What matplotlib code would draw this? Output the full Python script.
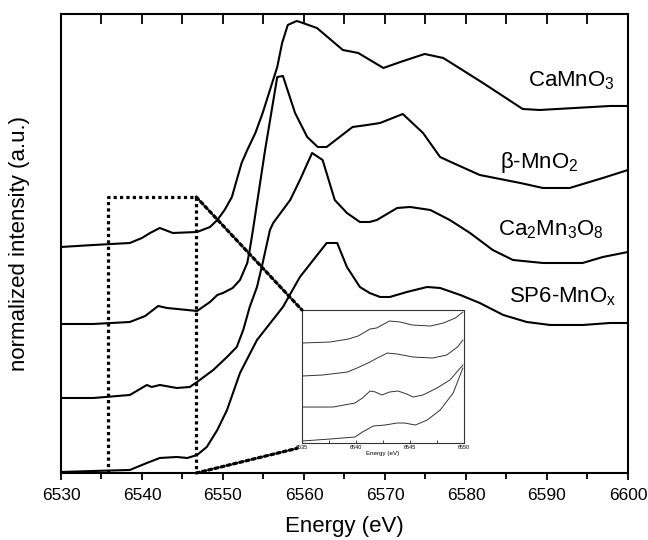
import matplotlib
matplotlib.use("Agg")
import matplotlib.pyplot as plt
from matplotlib.patches import ConnectionPatch
from matplotlib.ticker import MultipleLocator

plt.rcParams['font.family'] = ['Liberation Sans', 'DejaVu Sans']
plt.rcParams['mathtext.fontset'] = 'custom'
plt.rcParams['mathtext.rm'] = 'Liberation Sans'
plt.rcParams['mathtext.it'] = 'Liberation Sans:italic'

# main spectra (energy in eV, offset normalized intensity)
e_camno3 = [6530.0, 6534.0, 6538.5, 6540.0, 6541.0, 6542.2, 6543.8, 6546.8, 6548.4, 6549.3,
            6550.2, 6551.1, 6551.7, 6552.3, 6553.0, 6554.0, 6554.9, 6555.8, 6556.7, 6557.3,
            6558.0, 6559.1, 6559.5, 6561.6, 6564.8, 6566.7, 6569.8, 6571.9, 6574.9, 6577.2,
            6582.1, 6587.0, 6589.1, 6597.8, 6600.0]
i_camno3 = [2.26, 2.28, 2.30, 2.35, 2.40, 2.45, 2.40, 2.41, 2.46, 2.53,
            2.63, 2.76, 2.93, 3.10, 3.23, 3.40, 3.60, 3.83, 4.06, 4.30,
            4.48, 4.52, 4.51, 4.45, 4.23, 4.20, 4.05, 4.11, 4.19, 4.15,
            3.90, 3.64, 3.63, 3.67, 3.67]

e_mno2 = [6530.0, 6534.0, 6538.5, 6540.4, 6542.0, 6543.1, 6546.8, 6548.4, 6549.3, 6550.0,
          6551.2, 6552.1, 6553.0, 6553.3, 6553.7, 6555.2, 6556.7, 6557.4, 6558.9, 6560.4,
          6561.7, 6562.8, 6564.4, 6566.0, 6567.8, 6569.4, 6572.2, 6574.7, 6576.8, 6578.4,
          6581.7, 6586.7, 6589.5, 6592.8, 6596.9, 6600.0]
i_mno2 = [1.49, 1.49, 1.51, 1.57, 1.67, 1.65, 1.62, 1.71, 1.78, 1.80,
          1.85, 1.93, 2.10, 2.23, 2.43, 3.23, 3.96, 3.97, 3.60, 3.36,
          3.26, 3.26, 3.36, 3.46, 3.48, 3.50, 3.59, 3.40, 3.16, 3.10,
          2.98, 2.90, 2.85, 2.85, 2.95, 3.03]

e_ca2mn3o8 = [6530.0, 6534.0, 6538.5, 6540.6, 6541.2, 6542.2, 6544.3, 6545.9, 6546.8, 6548.8,
              6550.5, 6551.7, 6552.5, 6553.3, 6554.2, 6554.9, 6555.8, 6556.2, 6558.3, 6559.5,
              6561.0, 6562.3, 6563.8, 6565.3, 6566.9, 6568.1, 6569.0, 6571.5, 6573.1, 6575.6,
              6578.0, 6580.5, 6583.3, 6585.8, 6589.5, 6594.4, 6596.9, 6600.0]
i_ca2mn3o8 = [0.75, 0.75, 0.78, 0.88, 0.86, 0.88, 0.85, 0.86, 0.91, 1.03,
              1.16, 1.26, 1.43, 1.66, 1.86, 2.10, 2.43, 2.50, 2.73, 2.93,
              3.20, 3.13, 2.73, 2.60, 2.51, 2.51, 2.53, 2.65, 2.66, 2.63,
              2.53, 2.40, 2.23, 2.13, 2.10, 2.10, 2.16, 2.21]

e_sp6 = [6530.0, 6534.0, 6538.5, 6540.6, 6542.2, 6544.3, 6545.6, 6546.8, 6548.0, 6549.3,
         6550.5, 6552.1, 6554.2, 6557.4, 6559.5, 6562.8, 6564.1, 6565.3, 6566.9, 6568.1,
         6569.4, 6570.6, 6572.7, 6575.2, 6576.8, 6579.3, 6581.7, 6584.6, 6587.5, 6590.4,
         6594.4, 6597.8, 6600.0]
i_sp6 = [0.01, 0.02, 0.03, 0.10, 0.15, 0.16, 0.15, 0.18, 0.26, 0.43,
         0.63, 1.00, 1.33, 1.66, 1.96, 2.30, 2.30, 2.06, 1.86, 1.80,
         1.76, 1.76, 1.81, 1.86, 1.85, 1.78, 1.70, 1.58, 1.51, 1.48,
         1.48, 1.50, 1.50]

# inset: pre-edge region
ie1 = [6535.0, 6537.6, 6539.3, 6540.2, 6541.3, 6541.9, 6543.1, 6544.1, 6545.2, 6546.9, 6548.1, 6549.2, 6549.9]
ii1 = [1.00, 1.01, 1.04, 1.07, 1.14, 1.15, 1.22, 1.21, 1.18, 1.17, 1.20, 1.25, 1.31]
ie2 = [6535.0, 6536.9, 6539.2, 6540.1, 6541.3, 6541.8, 6542.9, 6543.8, 6545.3, 6547.1, 6548.4, 6549.4, 6549.9]
ii2 = [0.67, 0.68, 0.71, 0.75, 0.81, 0.84, 0.90, 0.89, 0.86, 0.85, 0.88, 0.96, 1.03]
ie3 = [6535.0, 6537.9, 6539.9, 6540.6, 6541.3, 6541.8, 6542.4, 6543.1, 6543.9, 6544.7, 6545.3, 6546.2, 6547.5, 6548.7, 6549.9]
ii3 = [0.36, 0.36, 0.40, 0.45, 0.52, 0.51, 0.48, 0.51, 0.52, 0.49, 0.46, 0.48, 0.55, 0.63, 0.78]
ie4 = [6535.0, 6537.6, 6539.9, 6540.6, 6541.6, 6542.7, 6543.8, 6544.5, 6545.5, 6546.6, 6547.8, 6549.0, 6549.9]
ii4 = [0.02, 0.04, 0.06, 0.11, 0.17, 0.18, 0.20, 0.20, 0.18, 0.23, 0.33, 0.50, 0.75]

names = ['CaMnO$_3$', 'β-MnO$_2$', 'Ca$_2$Mn$_3$O$_8$', r'SP6-MnO$_\mathrm{x}$']
name_x = [6593.0, 6589.0, 6590.5, 6592.0]
name_y = [3.92, 3.10, 2.43, 1.76]

zoom_e = [6535.8, 6546.7]
zoom_top = 2.76

fig = plt.figure(figsize=(6.48, 5.4), dpi=100)
ax = fig.add_axes([0.0941, 0.1241, 0.875, 0.85])

for e, i in [(e_camno3, i_camno3), (e_mno2, i_mno2), (e_ca2mn3o8, i_ca2mn3o8), (e_sp6, i_sp6)]:
    ax.plot(e, i, color='black', lw=1.5)

for n, x, y in zip(names, name_x, name_y):
    ax.text(x, y, n, fontsize=16, ha='center', va='center')

ax.set_xlim(6530, 6600)
ax.set_ylim(0, 4.59)
ax.set_yticks([])
ax.xaxis.set_major_locator(MultipleLocator(10))
ax.xaxis.set_minor_locator(MultipleLocator(5))
ax.tick_params(axis='x', which='both', direction='out', labelsize=12.5, pad=6, width=1.3)
ax.tick_params(axis='x', which='major', length=5)
ax.tick_params(axis='x', which='minor', length=4)
for sp in ax.spines.values():
    sp.set_linewidth(1.5)
ax.set_xlabel('Energy (eV)', fontsize=16)
ax.xaxis.set_label_coords(0.5, -0.093)
ax.set_ylabel('normalized intensity (a.u.)', fontsize=16)
ax.yaxis.set_label_coords(-0.054, 0.5)

# top ticks point inward, bottom ones outward
sec = ax.secondary_xaxis('top')
sec.xaxis.set_major_locator(MultipleLocator(10))
sec.xaxis.set_minor_locator(MultipleLocator(5))
sec.tick_params(which='both', direction='in', labeltop=False, width=1.3, length=7)
sec.spines['top'].set_visible(False)

# dotted zoom box
dot = dict(color='black', lw=2.3, ls=(0, (1, 1)))
ax.plot([zoom_e[0], zoom_e[0], zoom_e[1], zoom_e[1]], [0, zoom_top, zoom_top, 0], **dot)

axin = fig.add_axes([0.466, 0.1796, 0.25, 0.2463])
for e, i in [(ie1, ii1), (ie2, ii2), (ie3, ii3), (ie4, ii4)]:
    axin.plot(e, i, color='#333333', lw=0.7)
axin.set_xlim(6535, 6550)
axin.set_ylim(0, 1.33)
axin.set_yticks([])
axin.xaxis.set_major_locator(MultipleLocator(5))
axin.xaxis.set_minor_locator(MultipleLocator(2.5))
axin.tick_params(axis='x', which='both', direction='in', length=2, width=0.5, labelsize=4, pad=1.5)
for sp in axin.spines.values():
    sp.set_linewidth(0.8)
    sp.set_color('#333333')
axin.set_xlabel('Energy (eV)', fontsize=4.5, labelpad=1)

c1 = ConnectionPatch(xyA=(zoom_e[1], zoom_top), coordsA=ax.transData,
                     xyB=(0, 1), coordsB=axin.transAxes, **dot)
c2 = ConnectionPatch(xyA=(zoom_e[1], 0), coordsA=ax.transData,
                     xyB=(-0.03, -0.04), coordsB=axin.transAxes, **dot)
fig.add_artist(c1)
fig.add_artist(c2)

fig.savefig('out.png', dpi=100)
